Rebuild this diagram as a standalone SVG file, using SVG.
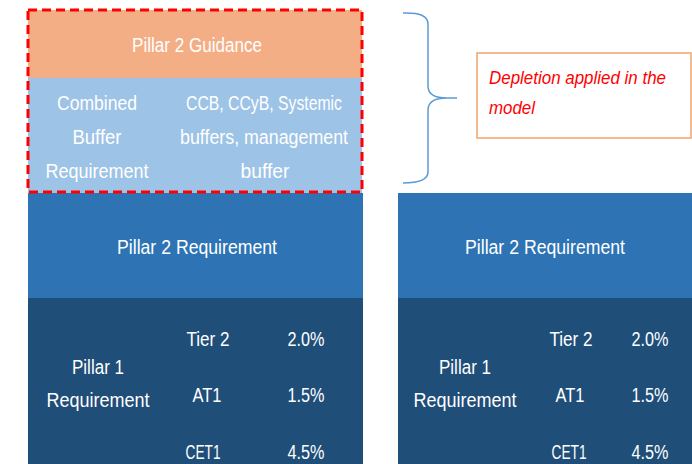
<svg xmlns="http://www.w3.org/2000/svg" width="692" height="464" viewBox="0 0 692 464">
<style>
.t{font-family:"Liberation Sans",Arial,sans-serif;font-size:20px;fill:#ffffff;text-anchor:middle;dominant-baseline:central}
.lab{font-family:"Liberation Sans",Arial,sans-serif;font-size:18px;font-style:italic;fill:#ff0000}
</style>
<rect width="692" height="464" fill="#ffffff"/>
<g id="pillar2-guidance">
<rect x="28" y="10" width="334" height="68" fill="#F4AE86"/>
<text class="t" x="197" y="45" textLength="130" lengthAdjust="spacingAndGlyphs">Pillar 2 Guidance</text>
</g>
<g id="combined-buffer">
<rect x="28" y="78" width="334" height="115" fill="#9DC3E6"/>
<text class="t" x="97" y="103" textLength="80" lengthAdjust="spacingAndGlyphs">Combined</text>
<text class="t" x="97" y="137" textLength="49" lengthAdjust="spacingAndGlyphs">Buffer</text>
<text class="t" x="97" y="171" textLength="103" lengthAdjust="spacingAndGlyphs">Requirement</text>
<text class="t" x="264" y="103" textLength="156" lengthAdjust="spacingAndGlyphs">CCB, CCyB, Systemic</text>
<text class="t" x="264" y="137" textLength="168" lengthAdjust="spacingAndGlyphs">buffers, management</text>
<text class="t" x="265" y="171" textLength="49" lengthAdjust="spacingAndGlyphs">buffer</text>
</g>
<g id="pillar2-req-left">
<rect x="28" y="193" width="335" height="105" fill="#2E74B5"/>
<text class="t" x="197" y="247" textLength="160" lengthAdjust="spacingAndGlyphs">Pillar 2 Requirement</text>
</g>
<g id="pillar1-req-left">
<rect x="28" y="298" width="335" height="166" fill="#1F4E79"/>
<text class="t" x="98" y="367" textLength="52" lengthAdjust="spacingAndGlyphs">Pillar 1</text>
<text class="t" x="98" y="400" textLength="103" lengthAdjust="spacingAndGlyphs">Requirement</text>
<text class="t" x="208" y="339" textLength="43" lengthAdjust="spacingAndGlyphs">Tier 2</text>
<text class="t" x="306" y="339" textLength="37" lengthAdjust="spacingAndGlyphs">2.0%</text>
<text class="t" x="207" y="395" textLength="29" lengthAdjust="spacingAndGlyphs">AT1</text>
<text class="t" x="306" y="395" textLength="37" lengthAdjust="spacingAndGlyphs">1.5%</text>
<text class="t" x="203" y="452" textLength="35" lengthAdjust="spacingAndGlyphs">CET1</text>
<text class="t" x="306" y="452" textLength="37" lengthAdjust="spacingAndGlyphs">4.5%</text>
</g>
<g id="depletion-frame">
<rect x="28" y="10" width="334" height="182" fill="none" stroke="#ff0000" stroke-width="3" stroke-dasharray="9 5"/>
</g>
<g id="pillar2-req-right">
<rect x="398" y="193" width="294" height="105" fill="#2E74B5"/>
<text class="t" x="545" y="247" textLength="160" lengthAdjust="spacingAndGlyphs">Pillar 2 Requirement</text>
</g>
<g id="pillar1-req-right">
<rect x="398" y="298" width="294" height="166" fill="#1F4E79"/>
<text class="t" x="465" y="367" textLength="52" lengthAdjust="spacingAndGlyphs">Pillar 1</text>
<text class="t" x="465" y="400" textLength="103" lengthAdjust="spacingAndGlyphs">Requirement</text>
<text class="t" x="571" y="339" textLength="43" lengthAdjust="spacingAndGlyphs">Tier 2</text>
<text class="t" x="650" y="339" textLength="37" lengthAdjust="spacingAndGlyphs">2.0%</text>
<text class="t" x="570" y="395" textLength="29" lengthAdjust="spacingAndGlyphs">AT1</text>
<text class="t" x="650" y="395" textLength="37" lengthAdjust="spacingAndGlyphs">1.5%</text>
<text class="t" x="569" y="452" textLength="35" lengthAdjust="spacingAndGlyphs">CET1</text>
<text class="t" x="650" y="452" textLength="37" lengthAdjust="spacingAndGlyphs">4.5%</text>
</g>
<g id="connectors">
<path d="M403,13 Q428,12 428,24 L428,86 Q428,98 447,98 L457,98 M447,98 Q428,98 428,110 L428,172 Q428,183 403,183" fill="none" stroke="#5B9BD5" stroke-width="1.5"/>
</g>
<g id="depletion-note">
<rect x="477" y="53" width="214" height="85" fill="#ffffff" stroke="#F4A36B" stroke-width="1.5"/>
<text class="lab" x="489" y="84" textLength="177" lengthAdjust="spacingAndGlyphs">Depletion applied in the</text>
<text class="lab" x="489" y="114" textLength="46" lengthAdjust="spacingAndGlyphs">model</text>
</g>
</svg>
